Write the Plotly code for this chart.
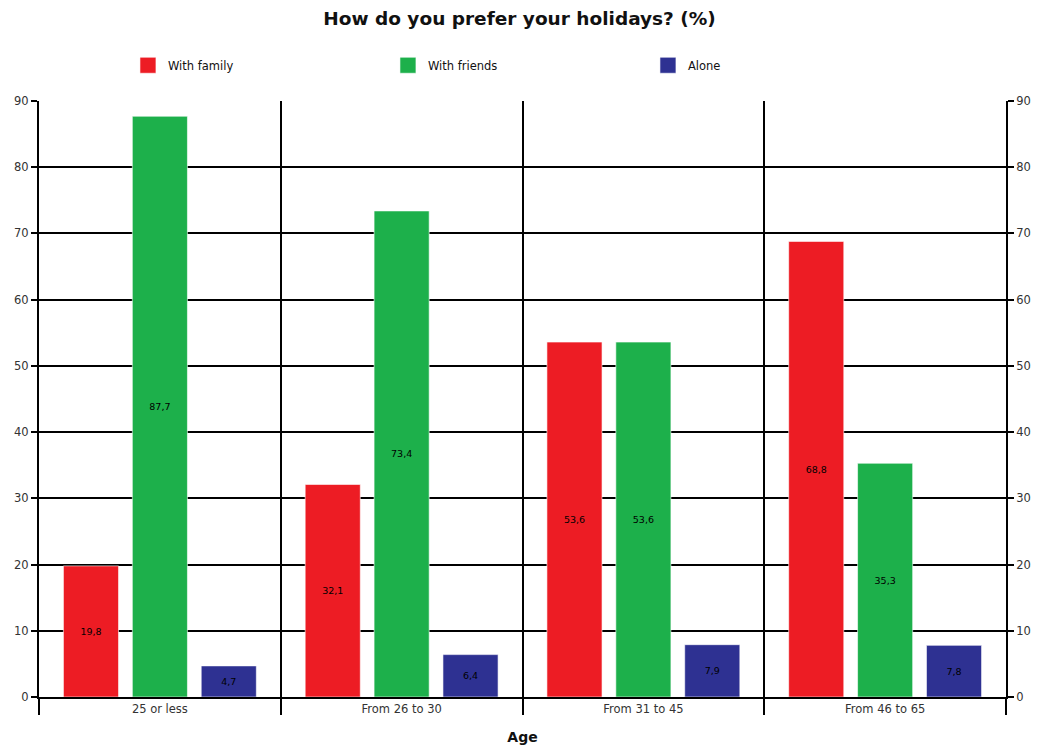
import plotly.graph_objects as go

categories = ["25 or less", "From 26 to 30", "From 31 to 45", "From 46 to 65"]
family = [19.8, 32.1, 53.6, 68.8]
friends = [87.7, 73.4, 53.6, 35.3]
alone = [4.7, 6.4, 7.9, 7.8]
series_names = ["With family", "With friends", "Alone"]
colors = ["#ED1C24", "#1DB04B", "#2E3192"]
tick_vals = [0, 10, 20, 30, 40, 50, 60, 70, 80, 90]

FONT = "DejaVu Sans"

def fmt(v):
    return f"{v:.1f}".replace(".", ",")

fig = go.Figure()
for name, vals, col in zip(series_names, [family, friends, alone], colors):
    fig.add_trace(go.Bar(
        x=categories, y=vals, name=name, showlegend=False,
        marker=dict(color=col, line=dict(color="rgba(255,255,255,0.6)", width=1)),
        text=[fmt(v) for v in vals], textposition="inside",
        insidetextanchor="middle", constraintext="none",
        textfont=dict(size=9.5, color="black", family=FONT),
        textangle=0,
    ))

# legend entries with larger square swatches
for name, col in zip(series_names, colors):
    fig.add_trace(go.Scatter(
        x=[None], y=[None], name=name, mode="markers",
        marker=dict(symbol="square", size=18, color=col,
                    line=dict(color="rgba(255,255,255,0.6)", width=1)),
        hoverinfo="skip",
    ))

# invisible trace for the right-side axis
fig.add_trace(go.Scatter(x=categories, y=[None]*len(categories), yaxis="y2",
                         showlegend=False, hoverinfo="skip", mode="markers",
                         marker=dict(opacity=0)))

axis_font = dict(family=FONT, size=11.5, color="#333333")

fig.update_layout(
    width=1039, height=749,
    margin=dict(l=39, r=33, t=101, b=52),
    paper_bgcolor="white", plot_bgcolor="white",
    barmode="group", bargap=0.145, bargroupgap=0.2,
    title=dict(text="<b>How do you prefer your holidays? (%)</b>",
               x=0.5, xanchor="center", y=0.975, yanchor="middle",
               font=dict(family=FONT, size=18.5, color="#111111")),
    legend=dict(orientation="h", x=0.092, xanchor="left", y=1.06, yanchor="middle",
                entrywidth=215, entrywidthmode="pixels",
                font=dict(family=FONT, size=11.5, color="#111111"),
                bgcolor="rgba(0,0,0,0)"),
    xaxis=dict(
        type="category", tickson="boundaries", ticks="outside", ticklen=16,
        tickwidth=2, tickcolor="black", automargin=False,
        showgrid=True, gridcolor="black", gridwidth=2,
        showline=True, linecolor="black", linewidth=2,
        tickfont=axis_font,
        title=dict(text="<b>Age</b>", font=dict(family=FONT, size=14, color="#111111"),
                   standoff=17),
    ),
    yaxis=dict(
        range=[0, 90], tickvals=tick_vals, ticks="outside", ticklen=6,
        tickwidth=2, tickcolor="black", automargin=False,
        showgrid=True, gridcolor="black", gridwidth=2,
        showline=True, linecolor="black", linewidth=2,
        zeroline=False, tickfont=axis_font,
    ),
    yaxis2=dict(
        range=[0, 90], tickvals=tick_vals, overlaying="y", side="right",
        ticks="outside", ticklen=6, tickwidth=2, tickcolor="black", automargin=False,
        showgrid=False, showline=True, linecolor="black", linewidth=2,
        zeroline=False, tickfont=axis_font,
    ),
)

fig.write_html("out.html")
